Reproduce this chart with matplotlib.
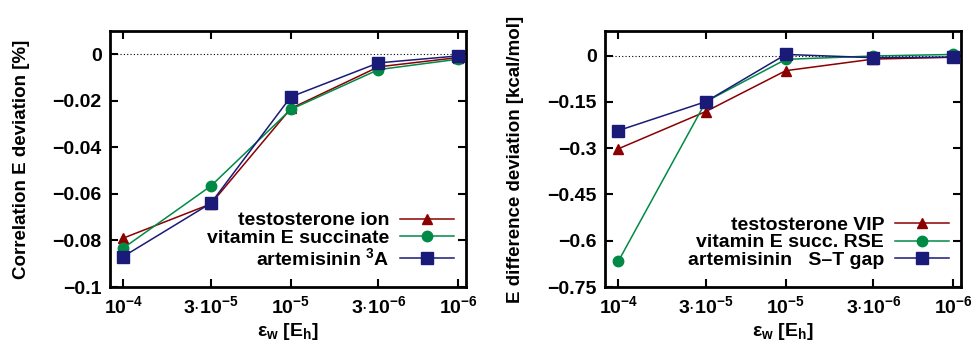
import matplotlib
matplotlib.use('Agg')
import matplotlib.pyplot as plt
from matplotlib.ticker import FixedLocator, FixedFormatter, NullLocator

plt.rcParams['font.family'] = ['Liberation Sans', 'DejaVu Sans']
plt.rcParams['font.weight'] = 'bold'
plt.rcParams['axes.labelweight'] = 'bold'
plt.rcParams['font.size'] = 14
plt.rcParams['mathtext.fontset'] = 'custom'
plt.rcParams['mathtext.rm'] = 'Liberation Sans:bold'
plt.rcParams['mathtext.it'] = 'Liberation Sans:bold'
plt.rcParams['mathtext.bf'] = 'Liberation Sans:bold'
plt.rcParams['mathtext.default'] = 'rm'

# Datos
eps_w = [1e-4, 3e-5, 1e-5, 3e-6, 1e-6]
xtick_labels = [r'$10^{-4}$', r'$3{\cdot}10^{-5}$', r'$10^{-5}$', r'$3{\cdot}10^{-6}$', r'$10^{-6}$']

# panel izquierdo: desviacion de la energia de correlacion [%]
corr_testo = [-0.0790, -0.0643, -0.0233, -0.0054, -0.0014]
corr_vitE = [-0.0833, -0.0566, -0.0237, -0.0066, -0.0021]
corr_artem = [-0.0869, -0.0640, -0.0183, -0.0037, -0.0007]
labels_left = ['testosterone ion', 'vitamin E succinate', r'artemisinin $^3$A']

# panel derecho: desviacion de diferencias de energia [kcal/mol]
diff_testo = [-0.302, -0.181, -0.0486, -0.011, -0.005]
diff_vitE = [-0.667, -0.149, -0.012, -0.001, 0.004]
diff_artem = [-0.243, -0.149, 0.004, -0.0065, -0.005]
labels_right = ['testosterone VIP', 'vitamin E succ. RSE', 'artemisinin   S\u2013T gap']

colores = ['#8b0000', '#008a46', '#1a1a78']
marcadores = [('^', 7), ('o', 7.5), ('s', 9)]

W, H = 972, 346
fig = plt.figure(figsize=(W / 100, H / 100), dpi=100)
ax1 = fig.add_axes([110 / W, (H - 287) / H, 356 / W, 256 / H])
ax2 = fig.add_axes([605 / W, (H - 287) / H, 356 / W, 256 / H])


def dibujar(ax, series, labels, ylim, yticks, ylabel):
    ax.axhline(0, color='black', linestyle=(0, (1, 2)), linewidth=0.8, zorder=1)
    for ys, lab, c, (m, ms) in zip(series, labels, colores, marcadores):
        ax.plot(eps_w, ys, color=c, marker=m, markersize=ms, linewidth=1.1,
                label=lab, zorder=3, clip_on=False)
    ax.set_xscale('log')
    ax.set_xlim(1.2e-4, 0.9e-6)
    ax.set_ylim(*ylim)
    ax.xaxis.set_major_locator(FixedLocator(eps_w))
    ax.xaxis.set_major_formatter(FixedFormatter(xtick_labels))
    ax.xaxis.set_minor_locator(NullLocator())
    ax.set_yticks(yticks)
    ax.set_yticklabels(['0' if v == 0 else f'{v:g}'.replace('-', '\u2212') for v in yticks])
    ax.tick_params(direction='in', length=6, width=1.5, top=True, right=True, pad=6)
    for s in ax.spines.values():
        s.set_linewidth(2)
    ax.set_xlabel('\u03b5$_\\mathrm{w}$ [E$_\\mathrm{h}$]', labelpad=3)
    ax.set_ylabel(ylabel, fontsize=13.5)
    ax.legend(loc='lower right', bbox_to_anchor=(1.0, 0.025), frameon=False,
              markerfirst=False, handlelength=2.8, labelspacing=0.0,
              borderaxespad=0.2, handletextpad=0.55)


dibujar(ax1, [corr_testo, corr_vitE, corr_artem], labels_left,
        (-0.1, 0.01), [0, -0.02, -0.04, -0.06, -0.08, -0.1],
        'Correlation E deviation [%]')
dibujar(ax2, [diff_testo, diff_vitE, diff_artem], labels_right,
        (-0.75, 0.08), [0, -0.15, -0.3, -0.45, -0.6, -0.75],
        'E difference deviation [kcal/mol]')

ax1.yaxis.set_label_coords(-0.225, 0.5)
ax2.yaxis.set_label_coords(-0.228, 0.5)

fig.savefig('out.png', dpi=100)
